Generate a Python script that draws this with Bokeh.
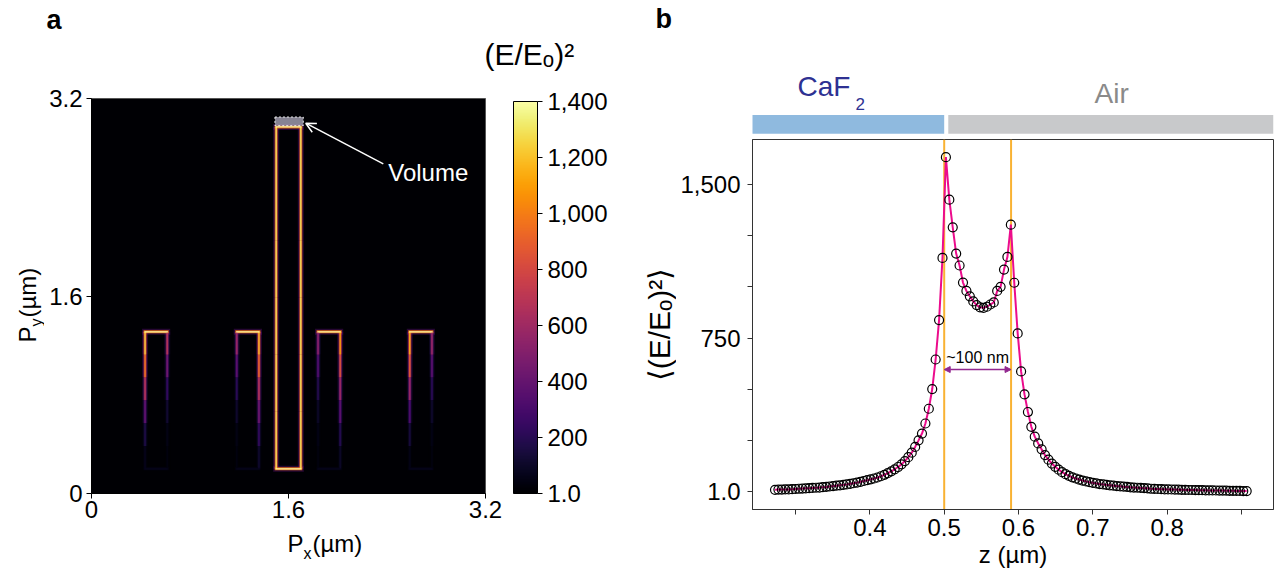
from math import pi
from bokeh.plotting import figure
from bokeh.models import (Range1d, FixedTicker, LinearColorMapper, ColorBar,
                          Arrow, OpenHead, NormalHead, Span, ColumnDataSource,
                          NumeralTickFormatter)
from bokeh.layouts import row, column
from bokeh.palettes import Inferno256
from bokeh.transform import transform
from bokeh.core.properties import value
from bokeh.embed import file_html
from bokeh.resources import INLINE

FONT = "Liberation Sans"

# ---------------- panel a data ----------------
rod_center_x = [0.525, 1.27, 1.60, 1.93, 2.675]
rod_width = [0.18, 0.18, 0.20, 0.18, 0.18]
rod_bottom = [0.20, 0.20, 0.20, 0.20, 0.20]
rod_top = [1.31, 1.31, 2.97, 1.31, 1.31]
edge_top_I = [1400, 1400, 1400, 1400, 1400]
edge_bottom_I = [70, 70, 1400, 70, 70]
# side intensities from top to bottom (six equal parts)
edge_left_I = [[1250, 1000, 700, 400, 180, 70], [600, 380, 220, 120, 60, 40],
               [1300, 1300, 1300, 1300, 1300, 1300], [550, 350, 200, 110, 60, 40],
               [1150, 900, 600, 330, 150, 60]]
edge_right_I = [[700, 450, 250, 130, 60, 40], [1200, 950, 700, 450, 250, 120],
                [1300, 1300, 1300, 1300, 1300, 1300], [1100, 850, 600, 380, 200, 100],
                [600, 380, 220, 120, 60, 40]]
volume_x = [1.49, 1.72]
volume_y = [2.98, 3.05]
axis_ticks_a = [0, 1.6, 3.2]
cbar_ticks = [1, 200, 400, 600, 800, 1000, 1200, 1400]
cbar_labels = ["1.0", "200", "400", "600", "800", "1,000", "1,200", "1,400"]

# ---------------- panel b data ----------------
z_um = [
    0.2723, 0.2769, 0.2815, 0.2861, 0.2907, 0.2953, 0.2999, 0.3045, 0.3091, 0.3137,
    0.3183, 0.3229, 0.3275, 0.3321, 0.3367, 0.3413, 0.3459, 0.3505, 0.3551, 0.3597,
    0.3643, 0.3689, 0.3735, 0.3781, 0.3827, 0.3873, 0.3919, 0.3965, 0.4011, 0.4057,
    0.4103, 0.4149, 0.4195, 0.4241, 0.4287, 0.4333, 0.4379, 0.4425, 0.4471, 0.4517,
    0.4563, 0.4609, 0.4655, 0.4701, 0.4747, 0.4793, 0.4839, 0.4885, 0.4931, 0.4977,
    0.5023, 0.5069, 0.5115, 0.5161, 0.5207, 0.5253, 0.5299, 0.5345, 0.5391, 0.5437,
    0.5483, 0.5529, 0.5575, 0.5621, 0.5667, 0.5713, 0.5759, 0.5805, 0.5851, 0.5897,
    0.5943, 0.5989, 0.6035, 0.6081, 0.6127, 0.6173, 0.6219, 0.6265, 0.6311, 0.6357,
    0.6403, 0.6449, 0.6495, 0.6541, 0.6587, 0.6633, 0.6679, 0.6725, 0.6771, 0.6817,
    0.6863, 0.6909, 0.6955, 0.7001, 0.7047, 0.7093, 0.7139, 0.7185, 0.7231, 0.7277,
    0.7323, 0.7369, 0.7415, 0.7461, 0.7507, 0.7553, 0.7599, 0.7645, 0.7691, 0.7737,
    0.7783, 0.7829, 0.7875, 0.7921, 0.7967, 0.8013, 0.8059, 0.8105, 0.8151, 0.8197,
    0.8243, 0.8289, 0.8335, 0.8381, 0.8427, 0.8473, 0.8519, 0.8565, 0.8611, 0.8657,
    0.8703, 0.8749, 0.8795, 0.8841, 0.8887, 0.8933, 0.8979, 0.9025, 0.9071,
]
field_avg = [
    11, 12, 12, 13, 13, 14, 15, 16, 17, 18,
    19, 20, 21, 22, 24, 25, 27, 29, 31, 33,
    35, 37, 40, 43, 46, 50, 54, 58, 62, 66,
    71, 77, 84, 92, 101, 111, 122, 135, 151, 170,
    192, 220, 252, 285, 334, 406, 502, 646, 838, 1141,
    1632, 1425, 1290, 1162, 1104, 1021, 980, 954, 929, 911,
    900, 898, 903, 914, 924, 980, 1000, 1084, 1146, 1303,
    1020, 773, 588, 476, 390, 318, 270, 237, 208, 180,
    158, 139, 123, 109, 97, 87, 79, 72, 66, 61,
    56, 52, 48, 45, 42, 39, 37, 35, 33, 31,
    29, 28, 26, 25, 23, 22, 21, 20, 19, 18,
    16, 15.5, 15, 14, 13.5, 13, 12.5, 12, 11.5, 11,
    10.5, 10, 10, 9.5, 9, 9, 8.5, 8, 8, 7.5,
    7, 7, 6.5, 6, 6, 5.5, 5.5, 5, 5,
]
interface_z = [0.50, 0.59]
gap_label = "~100 nm"
gap_level = 597
region_names = ["CaF", "Air"]
region_bounds = [0.242, 0.50, 0.9432]
b_xticks = [0.3, 0.4, 0.5, 0.6, 0.7, 0.8, 0.9]
b_yticks = [1, 250, 500, 750, 1000, 1250, 1500]
b_ylabels = ["1.0", "", "", "750", "", "", "1,500"]


def strip(w, h, x_range=None, border_right=0):
    """Blank figure whose frame is the whole box, used for labels outside plot frames."""
    s = figure(width=w, height=h, x_range=x_range or Range1d(0, w), y_range=Range1d(0, h),
               output_backend="svg", toolbar_location=None, min_border=0,
               min_border_right=border_right)
    s.axis.visible = False
    s.grid.visible = False
    s.outline_line_color = None
    return s


def txt(s, x, y, t, size, color="black", style="normal", angle=0, align="left",
        baseline="middle", font=FONT):
    s.text(x=[x], y=[y], text=[t], text_font=value(font), text_font_size=size,
           text_color=color, text_font_style=style, angle=angle, text_align=align,
           text_baseline=baseline)


# ================= panel a =================
mapper = LinearColorMapper(palette=Inferno256, low=cbar_ticks[0], high=cbar_ticks[-1])

pa = figure(width=596, height=448, x_range=Range1d(0, 3.2), y_range=Range1d(0, 3.2),
            output_backend="svg", toolbar_location=None,
            min_border_left=47, min_border_right=155, min_border_top=18, min_border_bottom=35)
pa.background_fill_color = "#000004"
pa.outline_line_color = "#555555"
pa.grid.visible = False

sides = dict(x0=[], y0=[], x1=[], y1=[], I=[])
caps = dict(x0=[], y0=[], x1=[], y1=[], I=[])
def add_seg(d, x0, y0, x1, y1, I):
    d["x0"].append(x0); d["y0"].append(y0)
    d["x1"].append(x1); d["y1"].append(y1); d["I"].append(I)

for i in range(len(rod_center_x)):
    l = rod_center_x[i] - rod_width[i] / 2
    r = rod_center_x[i] + rod_width[i] / 2
    b = rod_bottom[i]; t = rod_top[i]
    n = len(edge_left_I[i]); hs = (t - b) / n
    for k in range(n):
        ya, yb = t - k * hs, t - (k + 1) * hs
        add_seg(sides, l, ya, l, yb, edge_left_I[i][k])
        add_seg(sides, r, ya, r, yb, edge_right_I[i][k])
    add_seg(caps, l, b, r, b, edge_bottom_I[i])
    add_seg(caps, l, t, r, t, edge_top_I[i])

for d in (sides, caps):
    d["I_outer"] = [v * 0.25 for v in d["I"]]
    d["I_mid"] = [v * 0.70 for v in d["I"]]
srcs = [(ColumnDataSource(sides), "butt"), (ColumnDataSource(caps), "square")]
for col, width, alpha in (("I_outer", 6, 0.45), ("I_mid", 3, 0.9), ("I", 1.3, 1.0)):
    for src, cap in srcs:
        pa.segment("x0", "y0", "x1", "y1", source=src, line_color=transform(col, mapper),
                   line_width=width, line_alpha=alpha, line_cap=cap)

pa.quad(left=[volume_x[0]], right=[volume_x[1]], bottom=[volume_y[0]], top=[volume_y[1]],
        fill_color="#a8a4b8", fill_alpha=0.8, line_color="#e8e8e8", line_dash="2 2", line_width=1)
pa.add_layout(Arrow(end=OpenHead(size=10, line_color="white", line_width=1.5),
                    x_start=2.37, y_start=2.67, x_end=volume_x[1] + 0.02, y_end=3.0,
                    line_color="white", line_width=1.5))
txt(pa, 2.41, 2.60, "Volume", "24px", color="white")

for ax in (pa.xaxis[0], pa.yaxis[0]):
    ax.ticker = FixedTicker(ticks=axis_ticks_a)
    ax.major_label_text_font = FONT
    ax.major_label_text_font_size = "24px"
    ax.major_label_text_color = "black"
    ax.axis_line_color = "black"
    ax.major_tick_line_color = "black"
    ax.major_tick_in = 0
    ax.major_tick_out = 5
    ax.minor_tick_line_color = None
pa.xaxis.major_label_standoff = 2
pa.yaxis.major_label_standoff = 4

cb = ColorBar(color_mapper=mapper, ticker=FixedTicker(ticks=cbar_ticks),
              formatter=NumeralTickFormatter(format="0,0"),
              major_label_overrides={t: s for t, s in zip(cbar_ticks, cbar_labels)},
              width=24, height=392, location=(28, 0), padding=0, margin=0,
              major_tick_in=0, major_tick_out=5, major_tick_line_color="black",
              bar_line_color="black", border_line_color=None, background_fill_color=None,
              label_standoff=5, major_label_text_font=FONT, major_label_text_font_size="24px",
              major_label_text_color="black")
pa.add_layout(cb, "right")

# strips around panel a (pixel coordinates, y up)
ta = strip(640, 80)
txt(ta, 46, 61, "a", "27px", style="bold")
txt(ta, 484, 26, "(E/Eₒ)²", "30px")

la = strip(44, 448)
txt(la, 27, 186, "P", "24px", angle=pi / 2)
txt(la, 36, 202, "y", "16px", angle=pi / 2)
txt(la, 27, 211, "(µm)", "24px", angle=pi / 2)

ba = strip(640, 50)
txt(ba, 287, 35, "P", "24px")
txt(ba, 303, 25, "x", "16px")
txt(ba, 312, 35, "(µm)", "24px")

panel_a = column(ta, row(column(la), pa), ba)

# ================= panel b =================
xr = Range1d(region_bounds[0], region_bounds[-1])
pb = figure(width=598, height=436, x_range=xr, y_range=Range1d(-85, 1718),
            output_backend="svg", toolbar_location=None,
            min_border_left=76, min_border_right=1, min_border_top=0, min_border_bottom=66)
pb.grid.visible = False
pb.outline_line_color = "#333333"
pb.outline_line_width = 1

for zi in interface_z:
    pb.add_layout(Span(location=zi, dimension="height", line_color="#f9b233",
                       line_width=2, level="underlay"))

pb.line(z_um, field_avg, line_color="#ec0c8c", line_width=2)
pb.scatter(z_um, field_avg, marker="circle", size=9, fill_color=None,
           line_color="black", line_width=1.2)

pb.add_layout(Arrow(start=NormalHead(size=6, fill_color="#92278f", line_color="#92278f"),
                    end=NormalHead(size=6, fill_color="#92278f", line_color="#92278f"),
                    x_start=interface_z[0], x_end=interface_z[1],
                    y_start=gap_level, y_end=gap_level,
                    line_color="#92278f", line_width=1.5))
txt(pb, sum(interface_z) / 2, gap_level + 18, gap_label, "16px", align="center",
    baseline="bottom")

pb.xaxis.ticker = FixedTicker(ticks=b_xticks)
pb.xaxis.major_label_overrides = {0.3: "", 0.9: ""}
pb.yaxis.ticker = FixedTicker(ticks=b_yticks)
pb.yaxis.major_label_overrides = {t: s for t, s in zip(b_yticks, b_ylabels)}
for ax in (pb.xaxis[0], pb.yaxis[0]):
    ax.major_label_text_font = FONT
    ax.major_label_text_font_size = "24px"
    ax.major_label_text_color = "black"
    ax.axis_line_color = "#333333"
    ax.major_tick_line_color = "#333333"
    ax.major_tick_in = 0
    ax.major_tick_out = 5
    ax.minor_tick_line_color = None
    ax.axis_label_text_font = FONT
    ax.axis_label_text_font_style = "normal"
    ax.axis_label_text_color = "black"
pb.yaxis.major_label_standoff = 7
pb.xaxis.major_label_standoff = 4
pb.xaxis.axis_label = "z (µm)"
pb.xaxis.axis_label_text_font_size = "24px"
pb.xaxis.axis_label_standoff = 2

# y label strip left of pb (pixel coordinates)
lb = strip(36, 436)
txt(lb, 19, 436 - 185, "⟨(E/Eₒ)²⟩", "30px", angle=pi / 2, align="center")

# top material strip, same x scale as pb but frame starting at panel b's left edge
upp = (xr.end - xr.start) / 521.0
pt = strip(634, 139, x_range=Range1d(xr.start - 112 * upp, xr.end), border_right=1)
def zpx(cx):
    return xr.start + (cx - 752) * upp
pt.quad(left=[region_bounds[0]], right=[region_bounds[1]], bottom=[5.8], top=[24.5],
        fill_color="#8fbadf", line_color=None)
pt.quad(left=[region_bounds[1] + 0.0055], right=[region_bounds[2]], bottom=[5.8], top=[24.5],
        fill_color="#c8c9cb", line_color=None)
txt(pt, zpx(797), 53, region_names[0], "28px", color="#2e3192")
txt(pt, zpx(855), 36, "2", "17px", color="#2e3192")
txt(pt, zpx(1094), 46, region_names[1], "28px", color="#8a8a8a")
txt(pt, zpx(655), 121, "b", "27px", style="bold")

panel_b = column(pt, row(column(lb), pb))

layout = row(panel_a, panel_b)
open("out.html", "w").write(file_html(layout, INLINE))
